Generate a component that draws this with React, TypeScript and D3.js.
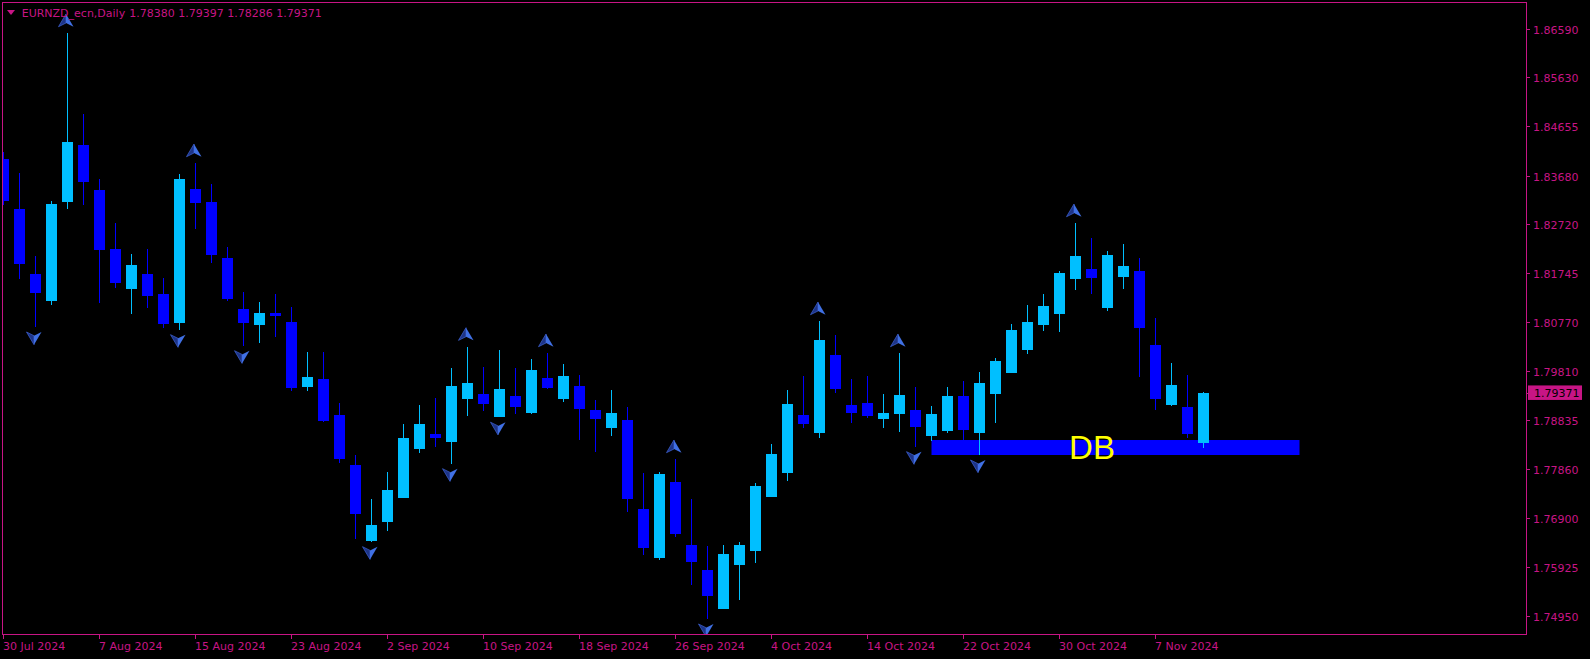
import React from "react";
import * as d3 from "d3";

const symbolTitle = "EURNZD_ecn,Daily";

const opens = [1.84008,1.83011,1.81728,1.81199,1.83161,1.84285,1.83393,1.82224,1.81431,1.81728,
1.81332,1.80757,1.83413,1.83161,1.82051,1.81035,1.80718,1.80955,1.80777,1.79489,
1.79647,1.78934,1.77943,1.76442,1.76819,1.77295,1.78266,1.78557,1.78405,1.79257,
1.79350,1.78900,1.79310,1.78979,1.79667,1.79257,1.79509,1.79033,1.78682,1.78835,
1.77071,1.76106,1.77606,1.76357,1.75862,1.75095,1.75967,1.76244,1.77315,1.77790,
1.78928,1.78583,1.80123,1.79126,1.79166,1.78860,1.78960,1.79033,1.78523,1.78623,
1.79310,1.78583,1.79356,1.79772,1.80228,1.80724,1.80942,1.81635,1.81828,1.81061,
1.81675,1.81788,1.80321,1.79138,1.79092,1.78380];

const highs = [1.84146,1.83724,1.82085,1.83175,1.86505,1.84900,1.83605,1.82739,1.82125,1.82224,
1.81649,1.83710,1.83928,1.83512,1.82264,1.81372,1.81173,1.81332,1.81074,1.80182,
1.80182,1.79172,1.78141,1.77269,1.77804,1.78755,1.79132,1.79271,1.79865,1.80288,
1.79885,1.80222,1.79865,1.80044,1.80163,1.79945,1.79727,1.79231,1.79429,1.79092,
1.77784,1.77804,1.78062,1.77269,1.76343,1.76363,1.76423,1.77586,1.78359,1.79429,
1.79707,1.80797,1.80519,1.79647,1.79707,1.79350,1.80163,1.79489,1.79112,1.79489,
1.79608,1.79786,1.80064,1.80737,1.81114,1.81332,1.81794,1.82739,1.82442,1.82184,
1.82323,1.82046,1.80856,1.79965,1.79727,1.79397];

const lows = [1.83096,1.81629,1.80678,1.81120,1.83017,1.83096,1.81148,1.81457,1.80942,1.81061,
1.80664,1.80625,1.82626,1.81946,1.81193,1.80307,1.80361,1.80480,1.79410,1.79415,
1.78795,1.77982,1.76482,1.76423,1.76641,1.77285,1.78187,1.78306,1.77969,1.78920,
1.79019,1.78890,1.78960,1.78960,1.79455,1.79197,1.78444,1.78206,1.78523,1.77017,
1.76165,1.76066,1.76522,1.75570,1.74891,1.75085,1.75273,1.76006,1.77305,1.77632,
1.78676,1.78484,1.79370,1.78781,1.78880,1.78682,1.78603,1.78306,1.78424,1.78583,
1.78438,1.78141,1.78781,1.79762,1.80149,1.80605,1.80585,1.81417,1.81338,1.81001,
1.81437,1.79693,1.79039,1.79118,1.78484,1.78286];

const closes = [1.83175,1.81933,1.81352,1.83116,1.84351,1.83558,1.82210,1.81550,1.81907,1.81298,
1.80743,1.83611,1.83136,1.82105,1.81233,1.80757,1.80955,1.80902,1.79475,1.79687,
1.78815,1.78062,1.76978,1.76754,1.77447,1.78478,1.78755,1.78484,1.79509,1.79568,
1.79158,1.79449,1.79098,1.79826,1.79475,1.79707,1.79059,1.78860,1.78973,1.77275,
1.76304,1.77764,1.76581,1.76026,1.75352,1.76179,1.76357,1.77527,1.78161,1.79152,
1.78761,1.80420,1.79449,1.78973,1.78920,1.78973,1.79330,1.78696,1.78954,1.79310,
1.78643,1.79568,1.80004,1.80619,1.80777,1.81094,1.81748,1.82085,1.81655,1.82105,
1.81887,1.80664,1.79251,1.79528,1.78563,1.79371];

const dateTickLabels = ["30 Jul 2024","7 Aug 2024","15 Aug 2024","23 Aug 2024","2 Sep 2024","10 Sep 2024","18 Sep 2024","26 Sep 2024","4 Oct 2024","14 Oct 2024","22 Oct 2024","30 Oct 2024","7 Nov 2024"];
const dateTickStep = 6;

const priceTicks = [1.8659,1.8563,1.84655,1.8368,1.8272,1.81745,1.8077,1.7981,1.78835,1.7786,1.769,1.75925,1.7495];

const upFractals = [4,12,29,34,42,51,56,67];
const downFractals = [2,11,15,23,28,31,44,57,61];

const zoneLabel = "DB";
const zoneStartBar = 58;
const zoneEndBar = 81;
const zoneLabelBar = 66.6;
const zoneTop = 1.78438;
const zoneBottom = 1.78141;

const W = 1590;
const H = 659;
const MAG = "#C71585";
const BULL = "#00BFFF";
const BEAR = "#0000FF";

export default function App() {
  const n = opens.length;
  const x = d3.scaleLinear().domain([0, n - 1]).range([3.5, 3.5 + 16 * (n - 1)]);
  const y = d3.scaleLinear().domain([1.7495, 1.8659]).range([616, 28.7]);
  const fmt = d3.format(".5f");
  const last = closes[n - 1];
  const font = "'DejaVu Sans', sans-serif";

  const candles = d3.range(n).map((i) => {
    const o = opens[i], c = closes[i], h = highs[i], l = lows[i];
    const up = c >= o;
    const col = up ? BULL : BEAR;
    const cx = x(i);
    const yt = Math.round(y(Math.max(o, c)));
    const yb = Math.round(y(Math.min(o, c)));
    const yh = Math.round(y(h));
    const yl = Math.round(y(l));
    return (
      <g key={i}>
        <rect x={cx - 0.5} y={yh} width={1} height={Math.max(1, yl - yh)} fill={col} />
        <rect x={cx - 5.5} y={yt} width={11} height={Math.max(1, yb - yt)} fill={col} />
      </g>
    );
  });

  const arrowUp = (i: number) => {
    const cx = x(i) - 1.5;
    const t = y(highs[i]) - 19;
    const b = t + 12.7;
    const nch = t + 9;
    return (
      <g key={"u" + i}>
        <polygon points={`${cx},${t} ${cx - 7.5},${b} ${cx},${nch}`} fill="#1d3487" stroke="#3f63d6" strokeWidth={0.7} />
        <polygon points={`${cx},${t} ${cx + 7.5},${b} ${cx},${nch}`} fill="#4070e4" />
      </g>
    );
  };
  const arrowDown = (i: number) => {
    const cx = x(i) - 1.5;
    const t = y(lows[i]) + 5;
    const b = t + 12.7;
    const nch = t + 3.7;
    return (
      <g key={"d" + i}>
        <polygon points={`${cx},${b} ${cx - 7.5},${t} ${cx},${nch}`} fill="#1d3487" stroke="#3f63d6" strokeWidth={0.7} />
        <polygon points={`${cx},${b} ${cx + 7.5},${t} ${cx},${nch}`} fill="#4070e4" />
      </g>
    );
  };

  const zy1 = y(zoneTop);
  const zy2 = y(zoneBottom);
  const dbSize = 33;

  return (
    <svg width={W} height={H} style={{ position: "absolute", left: 0, top: 0, display: "block" }}>
      <rect x={0} y={0} width={W} height={H} fill="#000" />
      <defs>
        <clipPath id="plot">
          <rect x={3} y={3} width={1523} height={631} />
        </clipPath>
      </defs>
      <g clipPath="url(#plot)">
        <rect x={x(zoneStartBar)} y={zy1} width={x(zoneEndBar) - x(zoneStartBar)} height={zy2 - zy1} fill={BEAR} />
        {candles}
        {upFractals.map(arrowUp)}
        {downFractals.map(arrowDown)}
        <text x={x(zoneLabelBar)} y={(zy1 + zy2) / 2 + dbSize * 0.358} fill="#FFFF00" fontFamily="'Liberation Sans', Arial, sans-serif" fontSize={dbSize}>{zoneLabel}</text>
      </g>
      <rect x={2.5} y={2.5} width={1524} height={632} fill="none" stroke={MAG} strokeWidth={1} />
      {/* header */}
      <polygon points="7,10 15,10 11,15" fill={MAG} />
      <text x={21.7} y={16.5} fill={MAG} fontFamily={font} fontSize={11}>{symbolTitle}</text>
      <text x={129.3} y={16.5} fill={MAG} fontFamily={font} fontSize={11}>
        {[opens[n - 1], highs[n - 1], lows[n - 1], closes[n - 1]].map(fmt).join(" ")}
      </text>
      {/* price axis */}
      {priceTicks.map((p) => {
        const py = Math.round(y(p)) + 0.5;
        return (
          <g key={p}>
            <line x1={1527} x2={1530} y1={py} y2={py} stroke={MAG} />
            <text x={1533} y={py + 4} fill={MAG} fontFamily={font} fontSize={11}>{fmt(p)}</text>
          </g>
        );
      })}
      {(() => {
        const py = y(last);
        return (
          <g>
            <line x1={1527} x2={1529} y1={Math.round(py) + 0.5} y2={Math.round(py) + 0.5} stroke={MAG} />
            <rect x={1528} y={py - 7.5} width={54} height={14.5} fill={MAG} />
            <text x={1534} y={py + 4} fill="#000" fontFamily={font} fontSize={11}>{fmt(last)}</text>
          </g>
        );
      })()}
      {/* time axis */}
      {dateTickLabels.map((lab, k) => {
        const tx = Math.round(x(k * dateTickStep) - 0.5) + 0.5;
        return (
          <g key={lab}>
            <line x1={tx} x2={tx} y1={635} y2={639} stroke={MAG} />
            <text x={tx - 0.5} y={650} fill={MAG} fontFamily={font} fontSize={11}>{lab}</text>
          </g>
        );
      })}
    </svg>
  );
}
